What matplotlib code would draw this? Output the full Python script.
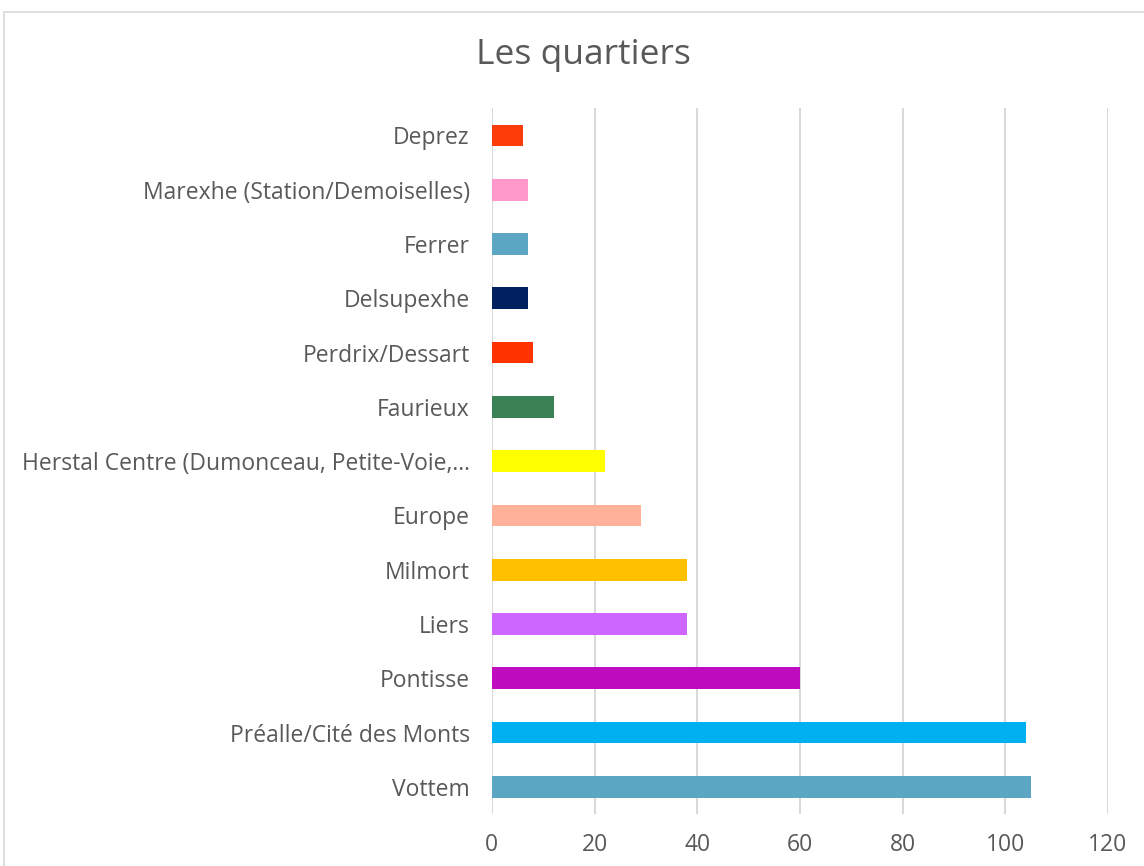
import matplotlib.pyplot as plt
from matplotlib.patches import Rectangle

plt.rcParams['font.family'] = ['Open Sans', 'DejaVu Sans']

quartiers = ['Vottem', 'Préalle/Cité des Monts', 'Pontisse', 'Liers', 'Milmort',
             'Europe', 'Herstal Centre (Dumonceau, Petite-Voie,…', 'Faurieux',
             'Perdrix/Dessart', 'Delsupexhe', 'Ferrer',
             'Marexhe (Station/Demoiselles)', 'Deprez']
valeurs = [105, 104, 60, 38, 38, 29, 22, 12, 8, 7, 7, 7, 6]
couleurs = ['#5BA6C2', '#00B0F0', '#C00CBF', '#CC66FF', '#FFC000',
            '#FFB199', '#FFFF00', '#3A8256', '#FF3300', '#002060',
            '#5BA6C2', '#FF99CC', '#FC3D0A']
graduations = [0, 20, 40, 60, 80, 100, 120]

fig = plt.figure(figsize=(11.44, 8.66), dpi=100)
ax = fig.add_axes([0.430, 0.060, 0.5385, 0.815])

ax.barh(range(len(quartiers)), valeurs, height=0.4, color=couleurs, zorder=3)
ax.set_yticks(range(len(quartiers)))
ax.set_yticklabels(quartiers)
ax.set_ylim(-0.5, len(quartiers) - 0.5)
ax.set_xlim(0, 120)
ax.set_xticks(graduations)

ax.grid(axis='x', color='#D9D9D9', linewidth=1.5, zorder=0)
for s in ax.spines.values():
    s.set_visible(False)
ax.tick_params(axis='both', length=0, labelsize=16.5, colors='#595959')
ax.tick_params(axis='y', pad=16)
ax.tick_params(axis='x', pad=14)

fig.text(0.5096, 0.937, 'Les quartiers', ha='center', va='center',
         fontsize=25.5, color='#595959')

# chart border
fig.patches.append(Rectangle((4 / 1144, -0.1), 1.2, 1 - 12 / 866 + 0.1,
                             transform=fig.transFigure, fill=False,
                             edgecolor='#D9D9D9', linewidth=1.2))

fig.savefig('out.png', dpi=100)
